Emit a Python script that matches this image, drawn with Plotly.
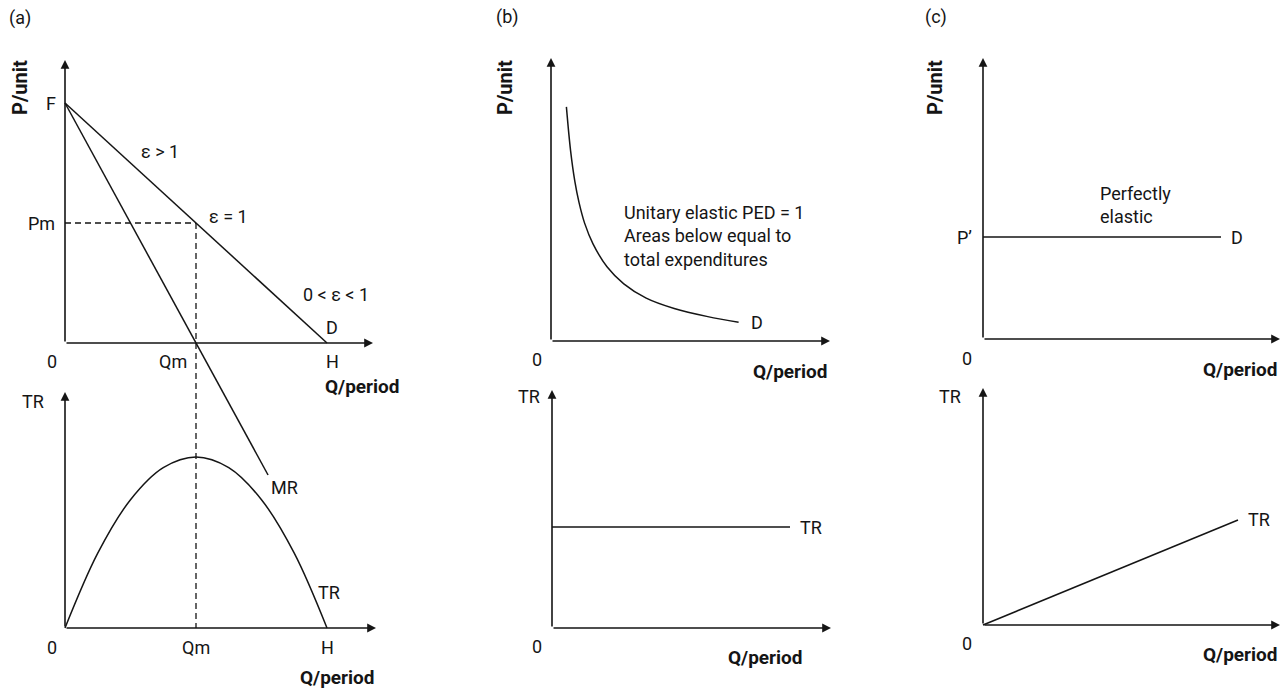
import plotly.graph_objects as go

W, H = 1286, 691
INK = "#151515"
FONT = "Roboto"

# ---------------- values (economic units) ----------------
# (a) linear demand, marginal revenue and total revenue
a_demand_q = [0, 8]
a_demand_p = [8, 0]
a_mr_q = [0, 6.2]
a_mr_p = [8, -4.4]
a_pm = 4
a_qm = 4
a_h = 8
a_tr_q = [0, 1, 2, 3, 4, 5, 6, 7, 8]
a_tr = [0, 7, 12, 15, 16, 15, 12, 7, 0]

# (b) unit-elastic demand (rectangular hyperbola) and flat total revenue
b_demand_q = [0.55, 0.7, 0.85, 1.0, 1.2, 1.5, 2.0, 2.6, 3.4, 4.4, 5.6, 6.7]
b_demand_p = [8.36, 6.79, 5.71, 4.95, 4.21, 3.47, 2.65, 2.04, 1.53, 1.16, 0.87, 0.67]
b_tr_q = [0, 8.5]
b_tr = [5, 5]

# (c) perfectly elastic demand and proportional total revenue
c_price = 3
c_demand_q = [0, 7]
c_demand_p = [c_price, c_price]
c_tr_q = [0, 7.5]
c_tr = [0, 22.5]

# ---------------- panel geometry (pixels) ----------------
# origin, pixels per unit, drawing box (left, right, top, bottom), arrow tips (x, y)
panels = {
    "a_top": dict(ax="", origin=(65, 343), scale=(32.75, 30.0), box=(0, 420, 30, 691), tips=(373, 60)),
    "a_bot": dict(ax="2", origin=(65, 628), scale=(32.75, 10.69), box=(0, 420, 380, 691), tips=(376, 392)),
    "b_top": dict(ax="3", origin=(551, 341), scale=(28.0, 28.0), box=(420, 850, 30, 380), tips=(830, 58)),
    "b_bot": dict(ax="4", origin=(552, 628), scale=(28.0, 20.2), box=(420, 850, 380, 691), tips=(831, 390)),
    "c_top": dict(ax="5", origin=(983, 339), scale=(34.0, 34.0), box=(850, 1286, 30, 380), tips=(1280, 58)),
    "c_bot": dict(ax="6", origin=(983, 625), scale=(34.0, 4.667), box=(850, 1286, 380, 691), tips=(1280, 388)),
}


def y_of(name, py):
    p = panels[name]
    return (p["origin"][1] - py) / p["scale"][1]


def x_of(name, px):
    p = panels[name]
    return (px - p["origin"][0]) / p["scale"][0]


fig = go.Figure()
layout_axes = {}
annotations = []


def refs(name):
    a = panels[name]["ax"]
    return "x" + a, "y" + a


for name, p in panels.items():
    a = p["ax"]
    left, right, top, bottom = p["box"]
    layout_axes["xaxis" + a] = dict(
        domain=[left / W, right / W],
        range=[x_of(name, left), x_of(name, right)],
        visible=False, fixedrange=True, anchor="y" + a,
    )
    layout_axes["yaxis" + a] = dict(
        domain=[1 - bottom / H, 1 - top / H],
        range=[y_of(name, bottom), y_of(name, top)],
        visible=False, fixedrange=True, anchor="x" + a,
    )
    xr, yr = refs(name)
    # axis arrows
    for tx, ty in ((x_of(name, p["tips"][0]), 0), (0, y_of(name, p["tips"][1]))):
        annotations.append(dict(
            x=tx, y=ty, ax=0, ay=0, xref=xr, yref=yr, axref=xr, ayref=yr,
            text="", showarrow=True, arrowhead=2, arrowsize=1.1,
            arrowwidth=1.6, arrowcolor=INK,
        ))


def line(name, xs, ys, dash="solid", width=1.5, shape="linear"):
    xr, yr = refs(name)
    fig.add_trace(go.Scatter(
        x=xs, y=ys, xaxis=xr, yaxis=yr, mode="lines",
        line=dict(color=INK, width=width, dash=dash, shape=shape, smoothing=1.0),
        hoverinfo="skip", showlegend=False,
    ))


def label(name, x, y, text, xanchor="center", yanchor="middle", xshift=0, yshift=0,
          size=18, bold=False, angle=0, align="center"):
    xr, yr = refs(name) if name else ("paper", "paper")
    annotations.append(dict(
        x=x, y=y, xref=xr, yref=yr, text=f"<b>{text}</b>" if bold else text,
        showarrow=False, xanchor=xanchor, yanchor=yanchor, align=align,
        xshift=xshift, yshift=yshift, textangle=angle,
        font=dict(family=FONT, size=size, color=INK),
    ))


def paper_label(px, py, text, **kw):
    label(None, px / W, 1 - py / H, text, **kw)


# ---------------- (a) ----------------
line("a_top", a_demand_q, a_demand_p)
line("a_top", a_mr_q, a_mr_p)
line("a_top", [0, a_qm], [a_pm, a_pm], dash="6px,4px", width=1.3)
line("a_top", [a_qm, a_qm], [a_pm, y_of("a_top", panels["a_bot"]["origin"][1])],
     dash="6px,4px", width=1.3)
line("a_bot", a_tr_q, a_tr, shape="spline")

label("a_top", 0, a_demand_p[0], "F", xanchor="right", xshift=-7)
label("a_top", 0, a_pm, "Pm", xanchor="right", xshift=-8)
label("a_top", 0, 0, "0", yanchor="top", xshift=-13, yshift=-6)
label("a_top", a_qm, 0, "Qm", xanchor="right", yanchor="top", xshift=-7, yshift=-6)
label("a_top", a_h, 0, "H", yanchor="top", xshift=5, yshift=-6)
label("a_top", a_h, 0, "D", yanchor="bottom", xshift=5, yshift=3)
label("a_top", 2.9, 6.37, "ε > 1")
label("a_top", 4.98, 4.23, "ε = 1")
label("a_top", 8.27, 1.63, "0 < ε < 1")
label("a_top", a_mr_q[1], a_mr_p[1], "MR", xanchor="left", yanchor="top", xshift=1, yshift=0)
paper_label(20, 18, "(a)")
paper_label(20, 88, "P/unit", angle=-90, bold=True, size=20)
paper_label(362, 387, "Q/period", bold=True, size=19)

label("a_bot", 0, 0, "0", yanchor="top", xshift=-13, yshift=-7)
label("a_bot", a_qm, 0, "Qm", yanchor="top", yshift=-7)
label("a_bot", a_h, 0, "H", yanchor="top", yshift=-7)
label("a_bot", 7.6, 3.3, "TR", xanchor="left", xshift=2)
paper_label(33, 402, "TR")
paper_label(337, 677, "Q/period", bold=True, size=19)

# ---------------- (b) ----------------
line("b_top", b_demand_q, b_demand_p, shape="spline")
label("b_top", b_demand_q[-1], b_demand_p[-1], "D", xanchor="left", xshift=10)
label("b_top", 0, 0, "0", yanchor="top", xshift=-14, yshift=-6)
paper_label(622, 236, "Unitary elastic PED = 1<br>Areas below equal to<br>total expenditures",
            xanchor="left", align="left")
paper_label(507, 17, "(b)")
paper_label(505, 88, "P/unit", angle=-90, bold=True, size=20)
paper_label(790, 371, "Q/period", bold=True, size=19)

line("b_bot", b_tr_q, b_tr)
label("b_bot", b_tr_q[-1], b_tr[-1], "TR", xanchor="left", xshift=8)
label("b_bot", 0, 0, "0", yanchor="top", xshift=-15, yshift=-6)
paper_label(529, 396, "TR")
paper_label(765, 657, "Q/period", bold=True, size=19)

# ---------------- (c) ----------------
line("c_top", c_demand_q, c_demand_p)
label("c_top", c_demand_q[-1], c_price, "D", xanchor="left", xshift=8)
label("c_top", 0, c_price, "P’", xanchor="right", xshift=-9)
label("c_top", 0, 0, "0", yanchor="top", xshift=-16, yshift=-7)
paper_label(1098, 205, "Perfectly<br>elastic", xanchor="left", align="left")
paper_label(936, 17, "(c)")
paper_label(935, 88, "P/unit", angle=-90, bold=True, size=20)
paper_label(1240, 369, "Q/period", bold=True, size=19)

line("c_bot", c_tr_q, c_tr)
label("c_bot", c_tr_q[-1], c_tr[-1], "TR", xanchor="left", xshift=8)
label("c_bot", 0, 0, "0", yanchor="top", xshift=-16, yshift=-6)
paper_label(950, 396, "TR")
paper_label(1240, 654, "Q/period", bold=True, size=19)

fig.update_layout(
    width=W, height=H,
    margin=dict(l=0, r=0, t=0, b=0),
    paper_bgcolor="white", plot_bgcolor="rgba(0,0,0,0)",
    annotations=annotations,
    **layout_axes,
)

fig.write_html("out.html", config={"displayModeBar": False})
